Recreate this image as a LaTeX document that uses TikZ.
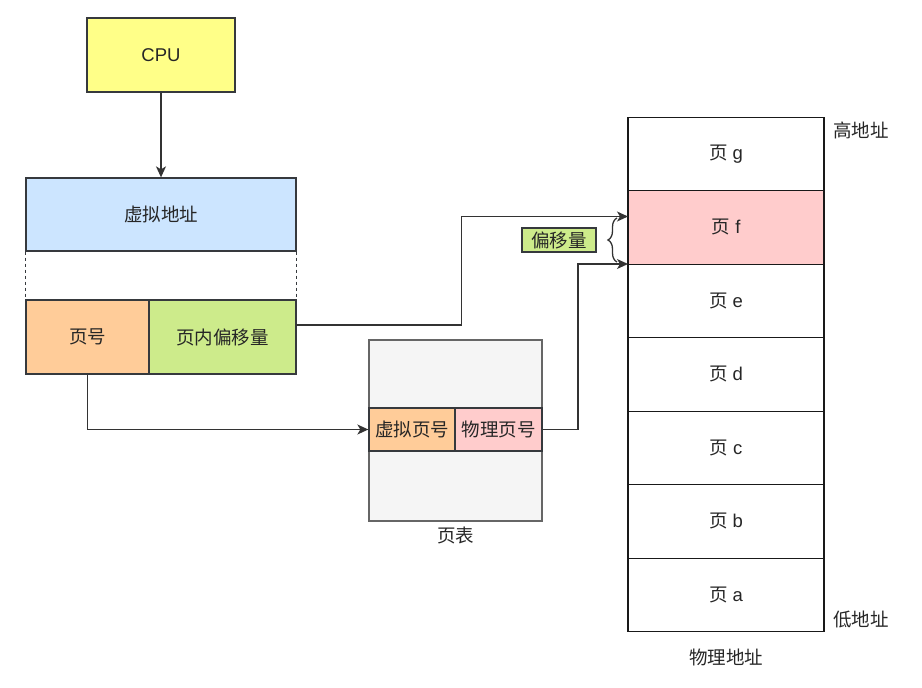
\documentclass[tikz,border=0pt]{standalone}
\usepackage{fontspec}
\setmainfont{Liberation Sans}
\newfontfamily\cjk{Noto Sans CJK SC}
\usetikzlibrary{arrows.meta,decorations.pathreplacing}
\definecolor{lineC}{HTML}{36393D}
\definecolor{cpuY}{HTML}{FFFF88}
\definecolor{vaB}{HTML}{CCE5FF}
\definecolor{pnO}{HTML}{FFCC99}
\definecolor{offG}{HTML}{CDEB8B}
\definecolor{ptG}{HTML}{F5F5F5}
\definecolor{ptL}{HTML}{666666}
\definecolor{pfR}{HTML}{FFCCCC}
\begin{document}
\begin{tikzpicture}[x=1pt,y=-1pt,
  every node/.style={font=\fontsize{18.5}{22}\selectfont, text=black!85, inner sep=0pt},
  box/.style={draw=lineC, line width=1.3pt},
  arr/.style={draw=black!80, line width=1.3pt, -{Stealth[length=11pt,width=10pt,inset=3pt]}},
  pagebox/.style={box, draw=black!90, fill=white, minimum width=196pt, minimum height=73.5pt}]
\useasboundingbox (0,0) rectangle (922,688);
% CPU
\node[box, fill=cpuY, minimum width=148pt, minimum height=74pt] (cpu) at (161,55) {CPU};
% virtual address
\node[box, fill=vaB, minimum width=270pt, minimum height=73pt] (va) at (161,214.5) {\cjk 虚拟地址};
\node[box, fill=pnO, minimum width=123pt, minimum height=74pt] (pn) at (87.5,337) {\cjk 页号};
\node[box, fill=offG, minimum width=147pt, minimum height=74pt] (off) at (222.5,337) {\cjk 页内偏移量};
\draw[lineC, line width=1.3pt, dash pattern=on 3pt off 3pt] (va.south west) -- (pn.north west);
\draw[lineC, line width=1.3pt, dash pattern=on 3pt off 3pt] (va.south east) -- (off.north east);
% page table
\node[draw=ptL, line width=1.3pt, fill=ptG, minimum width=173pt, minimum height=181pt] (pt) at (455.5,430.5) {};
\node[box, fill=pnO, minimum width=86pt, minimum height=43pt] (vpn) at (412,429.5) {\cjk 虚拟页号};
\node[box, fill=pfR, minimum width=87pt, minimum height=43pt] (ppn) at (498.5,429.5) {\cjk 物理页号};
\node (ptlabel) at (455.5,535) {\cjk 页表};
% physical pages
\node[pagebox] (pg) at (726,154)   {{\cjk 页} g};
\node[pagebox, fill=pfR] (pf) at (726,227.5) {{\cjk 页} f};
\node[pagebox] (pe) at (726,301)   {{\cjk 页} e};
\node[pagebox] (pd) at (726,374.5) {{\cjk 页} d};
\node[pagebox] (pc) at (726,448)   {{\cjk 页} c};
\node[pagebox] (pb) at (726,521.5) {{\cjk 页} b};
\node[pagebox] (pa) at (726,595)   {{\cjk 页} a};
\node (hi) at (861,130) {\cjk 高地址};
\node (lo) at (861,620) {\cjk 低地址};
\node (phys) at (726,657) {\cjk 物理地址};
% offset label and brace
\node[draw=lineC, line width=1.3pt, fill=offG, minimum width=74pt, minimum height=24pt] (offl) at (559,240) {\cjk 偏移量};
\coordinate (brB) at (617,262);
\coordinate (brT) at (617,218);
\draw[black!80, line width=1.3pt, decorate, decoration={brace, amplitude=9pt}] (brB) -- (brT);
% connectors
\draw[arr] (cpu.south) -- (va.north);
\coordinate (offout) at (296,325);
\coordinate (pfin) at (628,216.5);
\draw[arr] (offout) -- (461.5,325) |- (pfin);
\draw[arr] (pn.south) |- (vpn.west);
\coordinate (pein) at (628,264);
\draw[arr] (ppn.east) -- (578,429.5) |- (pein);
\end{tikzpicture}
\end{document}
